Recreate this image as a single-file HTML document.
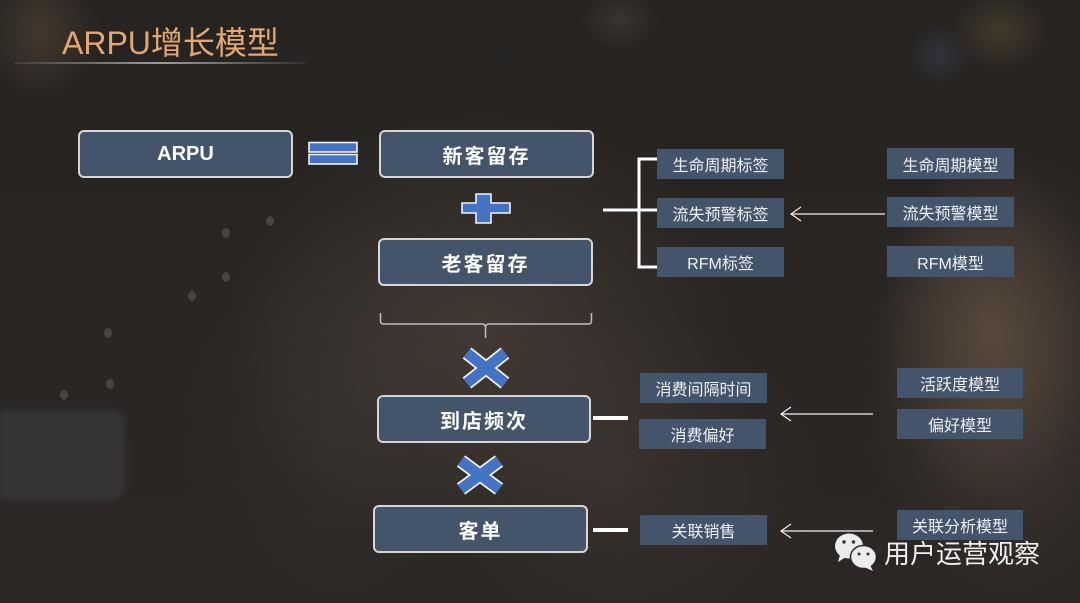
<!DOCTYPE html>
<html><head><meta charset="utf-8">
<style>
html,body{margin:0;padding:0;}
body{width:1080px;height:603px;overflow:hidden;position:relative;background:#282523;font-family:"Liberation Sans","Noto Sans CJK SC",sans-serif;}
.bg{position:absolute;left:0;top:0;width:1080px;height:603px;
background:
radial-gradient(ellipse 110px 170px at 990px 330px, rgba(110,90,72,0.55), rgba(110,90,72,0) 100%),
radial-gradient(ellipse 150px 230px at 1010px 380px, rgba(90,74,62,0.45), rgba(90,74,62,0) 100%),
radial-gradient(ellipse 260px 220px at 480px 330px, rgba(85,72,64,0.55), rgba(85,72,64,0) 100%),
radial-gradient(ellipse 200px 170px at 620px 480px, rgba(70,60,55,0.45), rgba(70,60,55,0) 100%),
radial-gradient(ellipse 160px 220px at 340px 430px, rgba(60,56,54,0.4), rgba(60,56,54,0) 100%),
radial-gradient(ellipse 60px 70px at 40px 30px, rgba(120,95,70,0.35), rgba(120,95,70,0) 100%),
radial-gradient(ellipse 50px 40px at 1000px 30px, rgba(120,100,60,0.35), rgba(120,100,60,0) 100%),
radial-gradient(ellipse 30px 30px at 940px 55px, rgba(70,80,110,0.35), rgba(70,80,110,0) 100%),
radial-gradient(ellipse 40px 30px at 620px 20px, rgba(90,85,80,0.35), rgba(90,85,80,0) 100%),
linear-gradient(180deg,#262321 0%,#2a2624 60%,#2c2725 100%);}
.leftblock{position:absolute;left:0;top:410px;width:125px;height:90px;background:rgba(75,80,82,0.35);border-radius:0 14px 14px 0;filter:blur(3px);}
.dot{position:absolute;width:8px;height:10px;border-radius:50%;background:rgba(130,125,115,0.35);}
.title{position:absolute;left:62px;top:18px;font-size:32px;color:#e2a773;letter-spacing:0px;white-space:nowrap;}
.uline{position:absolute;left:14px;top:62px;width:292px;height:2px;background:linear-gradient(90deg,rgba(120,120,120,0.2),rgba(170,170,170,0.9) 50%,rgba(120,120,120,0.15));}
.box{position:absolute;box-sizing:border-box;border:2px solid #d6d6d6;border-radius:6px;background:#44546a;color:#fff;font-weight:bold;font-size:20px;letter-spacing:2px;display:flex;align-items:center;justify-content:center;}
.tag{position:absolute;box-sizing:border-box;background:#44546a;color:#eef0f4;font-size:16px;display:flex;align-items:center;justify-content:center;white-space:nowrap;}
.wx{position:absolute;left:884px;top:538px;font-size:26px;color:#f0f0f0;white-space:nowrap;line-height:32px;}
svg{position:absolute;left:0;top:0;}
</style></head><body>
<div class="bg"></div>
<div class="leftblock"></div>
<div class="dot" style="left:266px;top:216px"></div>
<div class="dot" style="left:222px;top:228px"></div>
<div class="dot" style="left:222px;top:272px"></div>
<div class="dot" style="left:188px;top:291px"></div>
<div class="dot" style="left:104px;top:328px"></div>
<div class="dot" style="left:106px;top:379px"></div>
<div class="dot" style="left:60px;top:390px"></div>

<div class="title">ARPU增长模型</div>
<div class="uline"></div>

<div class="box" style="left:78px;top:130px;width:215px;height:48px;letter-spacing:0;">ARPU</div>
<div class="box" style="left:379px;top:130px;width:215px;height:48px;">新客留存</div>
<div class="box" style="left:378px;top:238px;width:215px;height:48px;">老客留存</div>
<div class="box" style="left:377px;top:395px;width:214px;height:48px;">到店频次</div>
<div class="box" style="left:373px;top:505px;width:215px;height:48px;">客单</div>

<div class="tag" style="left:657px;top:149px;width:127px;height:30px;">生命周期标签</div>
<div class="tag" style="left:657px;top:198px;width:127px;height:30px;">流失预警标签</div>
<div class="tag" style="left:657px;top:247px;width:127px;height:30px;">RFM标签</div>

<div class="tag" style="left:887px;top:148px;width:127px;height:31px;">生命周期模型</div>
<div class="tag" style="left:887px;top:197px;width:127px;height:30px;">流失预警模型</div>
<div class="tag" style="left:887px;top:246px;width:127px;height:31px;">RFM模型</div>

<div class="tag" style="left:640px;top:373px;width:127px;height:30px;">消费间隔时间</div>
<div class="tag" style="left:639px;top:419px;width:127px;height:30px;">消费偏好</div>
<div class="tag" style="left:640px;top:515px;width:127px;height:30px;">关联销售</div>

<div class="tag" style="left:897px;top:368px;width:126px;height:30px;">活跃度模型</div>
<div class="tag" style="left:897px;top:409px;width:126px;height:30px;">偏好模型</div>
<div class="tag" style="left:897px;top:510px;width:126px;height:30px;">关联分析模型</div>

<svg width="1080" height="603" viewBox="0 0 1080 603">
  <!-- equals -->
  <rect x="309" y="142.5" width="48" height="9.5" fill="#4472c4" stroke="#f2f2f2" stroke-width="1.6"/>
  <rect x="309" y="154.5" width="48" height="9.5" fill="#4472c4" stroke="#f2f2f2" stroke-width="1.6"/>
  <!-- plus -->
  <polygon points="476,194 491,194 491,203 510,203 510,213 491,213 491,223 476,223 476,213 462,213 462,203 476,203" fill="#4472c4" stroke="#f2f2f2" stroke-width="1.6"/>
  <!-- X 1 -->
  <g>
    <line x1="467" y1="353" x2="505" y2="383" stroke="#f2f2f2" stroke-width="14"/>
    <line x1="505" y1="353" x2="467" y2="383" stroke="#f2f2f2" stroke-width="14"/>
    <line x1="467" y1="353" x2="505" y2="383" stroke="#4472c4" stroke-width="10.5"/>
    <line x1="505" y1="353" x2="467" y2="383" stroke="#4472c4" stroke-width="10.5"/>
  </g>
  <!-- X 2 -->
  <g>
    <line x1="461" y1="461" x2="499" y2="489" stroke="#f2f2f2" stroke-width="14"/>
    <line x1="499" y1="461" x2="461" y2="489" stroke="#f2f2f2" stroke-width="14"/>
    <line x1="461" y1="461" x2="499" y2="489" stroke="#4472c4" stroke-width="10.5"/>
    <line x1="499" y1="461" x2="461" y2="489" stroke="#4472c4" stroke-width="10.5"/>
  </g>
  <!-- bracket -->
  <g stroke="#ffffff" stroke-width="3" fill="none">
    <line x1="603" y1="210" x2="657" y2="210"/>
    <polyline points="657,159 639,159 639,267 657,267"/>
  </g>
  <!-- brace under 老客留存 -->
  <path d="M380.5,313 L380.5,321 Q380.5,324 384,324 L482,324 Q485.5,324 485.5,328 L485.5,338 M485.5,328 Q485.5,324 489,324 L588,324 Q591.5,324 591.5,321 L591.5,313" stroke="#bdbdbd" stroke-width="1.5" fill="none"/>
  <!-- short lines -->
  <line x1="593" y1="418" x2="628" y2="418" stroke="#ffffff" stroke-width="4"/>
  <line x1="593" y1="530" x2="628" y2="530" stroke="#ffffff" stroke-width="4"/>
  <!-- arrows -->
  <g stroke="#f0f0f0" stroke-width="1.2" fill="none">
    <line x1="885" y1="214" x2="791" y2="214"/>
    <polyline points="801,207 791,214 801,221"/>
    <line x1="873" y1="414" x2="781" y2="414"/>
    <polyline points="791,407 781,414 791,421"/>
    <line x1="873" y1="531" x2="781" y2="531"/>
    <polyline points="791,524 781,531 791,538"/>
  </g>
  <!-- wechat icon -->
  <g>
    <ellipse cx="849" cy="546" rx="14" ry="12.5" fill="#ececec"/>
    <polygon points="840,555 838,562 846,557" fill="#ececec"/>
    <ellipse cx="863.5" cy="557" rx="13" ry="11.5" fill="#ececec" stroke="#2b2724" stroke-width="1.5"/>
    <polygon points="870,565 873,571 864,567" fill="#ececec"/>
    <circle cx="844" cy="542" r="1.7" fill="#333"/>
    <circle cx="853.5" cy="542" r="1.7" fill="#333"/>
    <circle cx="859" cy="554" r="1.5" fill="#333"/>
    <circle cx="868" cy="554" r="1.5" fill="#333"/>
  </g>
</svg>
<div class="wx">用户运营观察</div>
</body></html>
